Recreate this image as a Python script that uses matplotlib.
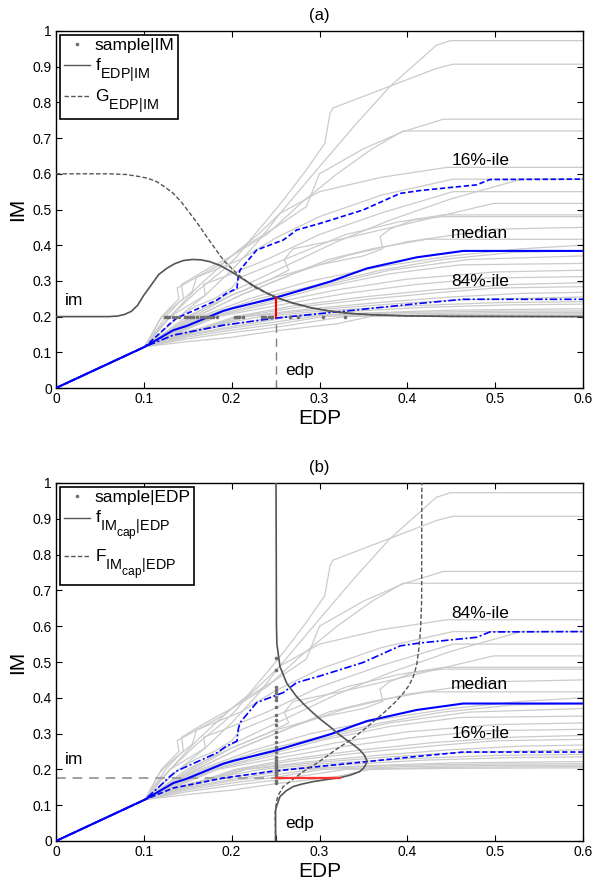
import matplotlib
matplotlib.use('Agg')
import matplotlib.pyplot as plt
import matplotlib._mathtext as _mt
from matplotlib.lines import Line2D
from matplotlib.ticker import FixedLocator

plt.rcParams['font.family'] = ['Liberation Sans', 'DejaVu Sans']
plt.rcParams['mathtext.fontset'] = 'custom'
plt.rcParams['mathtext.rm'] = 'Liberation Sans'
plt.rcParams['mathtext.it'] = 'Liberation Sans:italic'
plt.rcParams['mathtext.bf'] = 'Liberation Sans:bold'
# MATLAB-like larger, lower subscripts
_mt.SHRINK_FACTOR = 0.83
_mt.FontConstantsBase.sub1 = 0.9
_mt.FontConstantsBase.subdrop = 0.9

# ---------------- data ----------------
ELASTIC_EDP = [0.0, 0.1013]
ELASTIC_IM = [0.0, 0.1157]

# post-elastic branches of the IDA curves (EDP, IM)
IDA_EDP = [
    [0.118, 0.13, 0.16, 0.2, 0.23, 0.255, 0.30, 0.34, 0.38, 0.433, 0.449, 0.6],
    [0.13, 0.16, 0.19, 0.206, 0.221, 0.24, 0.259, 0.285, 0.306, 0.312, 0.315, 0.433, 0.452, 0.6],
    [0.12, 0.14, 0.138, 0.16, 0.19, 0.21, 0.25, 0.285, 0.30, 0.35, 0.395, 0.441, 0.6],
    [0.118, 0.13, 0.145, 0.143, 0.17, 0.2, 0.24, 0.28, 0.32, 0.36, 0.395, 0.6],
    [0.14, 0.17, 0.2, 0.23, 0.255, 0.30, 0.37, 0.445, 0.6],
    [0.125, 0.14, 0.155, 0.16, 0.19, 0.21, 0.25, 0.3, 0.37, 0.452, 0.6],
    [0.153, 0.2, 0.26, 0.32, 0.38, 0.45, 0.53, 0.6],
    [0.13, 0.15, 0.17, 0.168, 0.19, 0.24, 0.3, 0.37, 0.452, 0.6],
    [0.149, 0.2, 0.24, 0.265, 0.26, 0.27, 0.33, 0.4, 0.498, 0.6],
    [0.14, 0.16, 0.18, 0.2, 0.21, 0.23, 0.28, 0.33, 0.39, 0.441, 0.6],
    [0.156, 0.2, 0.25, 0.3, 0.35, 0.372, 0.369, 0.38, 0.406, 0.44, 0.6],
    [0.16, 0.21, 0.27, 0.33, 0.4, 0.5, 0.6],
    [0.16, 0.21, 0.26, 0.31, 0.36, 0.422, 0.6],
    [0.164, 0.22, 0.29, 0.37, 0.45, 0.53, 0.6],
    [0.168, 0.23, 0.3, 0.37, 0.44, 0.52, 0.6],
    [0.172, 0.24, 0.31, 0.38, 0.47, 0.6],
    [0.176, 0.24, 0.3, 0.38, 0.46, 0.6],
    [0.18, 0.25, 0.32, 0.4, 0.5, 0.6],
    [0.184, 0.26, 0.33, 0.41, 0.49, 0.6],
    [0.204, 0.27, 0.35, 0.43, 0.52, 0.6],
    [0.208, 0.28, 0.36, 0.44, 0.5, 0.6],
    [0.213, 0.29, 0.37, 0.45, 0.53, 0.6],
    [0.217, 0.3, 0.38, 0.46, 0.6],
    [0.15, 0.2, 0.234, 0.3, 0.4, 0.5, 0.6],
    [0.15, 0.2, 0.25, 0.3, 0.42, 0.52, 0.6],
    [0.15, 0.2, 0.25, 0.266, 0.35, 0.45, 0.6],
    [0.15, 0.2, 0.25, 0.3, 0.4, 0.5, 0.6],
    [0.15, 0.2, 0.25, 0.304, 0.4, 0.5, 0.6],
    [0.15, 0.2, 0.25, 0.329, 0.45, 0.6],
    [0.15, 0.2, 0.25, 0.32, 0.3575, 0.45, 0.55, 0.6],
]
IDA_IM = [
    [0.17, 0.2, 0.28, 0.37, 0.43, 0.489, 0.62, 0.735, 0.844, 0.96, 0.973, 0.973],
    [0.2, 0.27, 0.33, 0.368, 0.415, 0.47, 0.527, 0.611, 0.685, 0.769, 0.784, 0.895, 0.907, 0.907],
    [0.2, 0.25, 0.28, 0.31, 0.35, 0.39, 0.45, 0.508, 0.6, 0.67, 0.718, 0.753, 0.753],
    [0.19, 0.22, 0.25, 0.29, 0.33, 0.37, 0.43, 0.52, 0.6, 0.67, 0.72, 0.72],
    [0.2, 0.26, 0.33, 0.41, 0.489, 0.55, 0.59, 0.618, 0.618],
    [0.2, 0.24, 0.27, 0.31, 0.34, 0.36, 0.42, 0.48, 0.54, 0.585, 0.585],
    [0.2, 0.27, 0.34, 0.41, 0.47, 0.53, 0.585, 0.585],
    [0.2, 0.23, 0.26, 0.29, 0.31, 0.36, 0.43, 0.49, 0.55, 0.55],
    [0.2, 0.26, 0.3, 0.33, 0.36, 0.39, 0.42, 0.46, 0.517, 0.517],
    [0.2, 0.23, 0.25, 0.28, 0.31, 0.33, 0.38, 0.43, 0.465, 0.485, 0.485],
    [0.2, 0.26, 0.31, 0.345, 0.37, 0.39, 0.424, 0.445, 0.47, 0.48, 0.48],
    [0.2, 0.26, 0.32, 0.37, 0.41, 0.445, 0.45],
    [0.2, 0.26, 0.31, 0.36, 0.39, 0.4166, 0.4166],
    [0.2, 0.25, 0.3, 0.34, 0.37, 0.39, 0.40],
    [0.2, 0.25, 0.29, 0.33, 0.36, 0.38, 0.384],
    [0.2, 0.25, 0.29, 0.33, 0.36, 0.37],
    [0.2, 0.24, 0.28, 0.32, 0.345, 0.349],
    [0.2, 0.24, 0.275, 0.305, 0.325, 0.33],
    [0.2, 0.235, 0.265, 0.29, 0.308, 0.312],
    [0.2, 0.23, 0.255, 0.275, 0.29, 0.295],
    [0.2, 0.228, 0.25, 0.268, 0.28, 0.284],
    [0.2, 0.222, 0.24, 0.255, 0.265, 0.268],
    [0.2, 0.22, 0.235, 0.247, 0.255],
    [0.16, 0.185, 0.2, 0.215, 0.23, 0.239, 0.242],
    [0.155, 0.178, 0.198, 0.21, 0.226, 0.233, 0.235],
    [0.15, 0.172, 0.192, 0.2, 0.21, 0.218, 0.222],
    [0.147, 0.168, 0.185, 0.203, 0.212, 0.215, 0.216],
    [0.143, 0.162, 0.178, 0.2, 0.208, 0.211, 0.212],
    [0.138, 0.155, 0.17, 0.2, 0.206, 0.208],
    [0.13, 0.142, 0.16, 0.18, 0.2, 0.203, 0.204, 0.204],
]

# fractile curves
UPPER_EDP = [0, 0.1013, 0.118, 0.130, 0.137, 0.183, 0.194, 0.206, 0.2075, 0.2095, 0.2285,
             0.2588, 0.274, 0.3006, 0.3496, 0.3917, 0.414, 0.479, 0.494, 0.6]
UPPER_IM = [0, 0.1157, 0.153, 0.181, 0.195, 0.246, 0.265, 0.279, 0.312, 0.3305, 0.3866,
            0.4146, 0.4426, 0.461, 0.4986, 0.545, 0.553, 0.569, 0.584, 0.585]
MEDIAN_EDP = [0, 0.1013, 0.1336, 0.149, 0.1905, 0.202, 0.2474, 0.312, 0.354, 0.4106, 0.4637, 0.6]
MEDIAN_IM = [0, 0.1157, 0.162, 0.174, 0.216, 0.224, 0.251, 0.298, 0.335, 0.366, 0.384, 0.384]
LOWER_EDP = [0, 0.1013, 0.1336, 0.1905, 0.2474, 0.3233, 0.414, 0.4637, 0.6]
LOWER_IM = [0, 0.1157, 0.148, 0.176, 0.195, 0.214, 0.237, 0.2485, 0.2485]

# samples
IM_LEVEL = 0.2
SAMPLE_EDP = [0.124, 0.126, 0.129, 0.133, 0.137, 0.140, 0.147, 0.149, 0.153, 0.156,
              0.160, 0.165, 0.168, 0.172, 0.175, 0.179, 0.183, 0.204, 0.206, 0.208,
              0.213, 0.234, 0.236, 0.238, 0.242, 0.246, 0.266, 0.276, 0.304, 0.329]
EDP_LEVEL = 0.25
SAMPLE_IM = [0.161, 0.168, 0.1795, 0.185, 0.189, 0.194, 0.198, 0.203, 0.2075, 0.212,
             0.217, 0.226, 0.235, 0.249, 0.263, 0.277, 0.291, 0.305, 0.324, 0.338,
             0.352, 0.375, 0.394, 0.403, 0.4125, 0.422, 0.429, 0.478, 0.51]

# fitted distributions
FA_EDP = [0, 0.06, 0.07, 0.078, 0.086, 0.093, 0.1, 0.108, 0.117, 0.126, 0.135, 0.145, 0.155,
          0.165, 0.175, 0.187, 0.2, 0.213, 0.226, 0.24, 0.255, 0.27, 0.29, 0.31, 0.335, 0.36,
          0.4, 0.45, 0.6]
FA_IM = [0.2, 0.2, 0.2015, 0.206, 0.215, 0.232, 0.26, 0.287, 0.318, 0.335, 0.348, 0.357, 0.36,
         0.359, 0.354, 0.343, 0.325, 0.305, 0.285, 0.266, 0.25, 0.238, 0.225, 0.216, 0.209,
         0.205, 0.202, 0.2005, 0.2]
GA_EDP = [0, 0.06, 0.08, 0.0956, 0.105, 0.1146, 0.124, 0.1336, 0.143, 0.1526, 0.162, 0.1715,
          0.181, 0.1905, 0.2057, 0.2246, 0.2474, 0.270, 0.293, 0.3233, 0.36, 0.4, 0.45, 0.6]
GA_IM = [0.6, 0.6, 0.598, 0.592, 0.587, 0.578, 0.563, 0.545, 0.52, 0.489, 0.458, 0.424,
         0.391, 0.3585, 0.321, 0.284, 0.256, 0.237, 0.223, 0.211, 0.205, 0.202, 0.2005, 0.2]
FB_IM = [0, 0.0866, 0.1, 0.124, 0.14, 0.152, 0.159, 0.166, 0.172, 0.177, 0.184, 0.193, 0.203,
         0.215, 0.226, 0.24, 0.254, 0.268, 0.282, 0.30, 0.319, 0.338, 0.357, 0.38, 0.403,
         0.4405, 0.487, 0.55, 0.6, 1.0]
FB_EDP = [0.25, 0.25, 0.2515, 0.255, 0.262, 0.270, 0.28, 0.293, 0.309, 0.3233, 0.335, 0.345,
          0.35, 0.353, 0.3537, 0.351, 0.346, 0.339, 0.331, 0.321, 0.312, 0.302, 0.293, 0.283,
          0.274, 0.2627, 0.255, 0.2515, 0.251, 0.2505]
CB_IM = [0.0, 0.077, 0.1145, 0.13, 0.152, 0.18, 0.2, 0.217, 0.24, 0.263, 0.285, 0.31, 0.335,
         0.357, 0.385, 0.4126, 0.435, 0.459, 0.49, 0.524, 0.56, 0.599, 0.673, 1.0]
CB_EDP = [0.25, 0.2495, 0.2513, 0.2535, 0.2588, 0.274, 0.285, 0.2968, 0.31, 0.3233, 0.337,
          0.35, 0.362, 0.3727, 0.385, 0.3954, 0.402, 0.4068, 0.4105, 0.4125, 0.414, 0.4152,
          0.4163, 0.4165]

IM_B = 0.177
RED_A_TOP = 0.252
RED_B_RIGHT = 0.3233

XTICKS = [0, 0.1, 0.2, 0.3, 0.4, 0.5, 0.6]
XTICKLABELS = ['0', '0.1', '0.2', '0.3', '0.4', '0.5', '0.6']
YTICKS = [0, 0.1, 0.2, 0.3, 0.4, 0.5, 0.6, 0.7, 0.8, 0.9, 1.0]
YTICKLABELS = ['0', '0.1', '0.2', '0.3', '0.4', '0.5', '0.6', '0.7', '0.8', '0.9', '1']

# ---------------- styling ----------------
GRAY = '#cbcbcb'
DARK = '#555555'
BLUE = '#0000ff'
DOT = '#6e6e6e'
DASH = (0, (3.2, 1.6))
DASHDOT = (0, (4.5, 1.5, 1.2, 1.5))
FS_LABEL = 12.5

fig = plt.figure(figsize=(5.94, 8.85), dpi=100)
ax1 = fig.add_axes([56 / 594, 1 - 388 / 885, 527 / 594, 357 / 885])
ax2 = fig.add_axes([56 / 594, 1 - 841 / 885, 527 / 594, 358 / 885])


def base(ax, upper_ls, lower_ls):
    for e, i in zip(IDA_EDP, IDA_IM):
        ax.plot(ELASTIC_EDP + e, ELASTIC_IM + i, color=GRAY, lw=0.9, zorder=1)
    ax.plot(UPPER_EDP, UPPER_IM, color=BLUE, lw=1.2, ls=upper_ls, zorder=3)
    ax.plot(MEDIAN_EDP, MEDIAN_IM, color=BLUE, lw=1.5, ls='-', zorder=3)
    ax.plot(LOWER_EDP, LOWER_IM, color=BLUE, lw=1.2, ls=lower_ls, zorder=3)
    ax.set_xlim(0, 0.6)
    ax.set_ylim(0, 1)
    ax.set_xticks(XTICKS)
    ax.set_xticklabels(XTICKLABELS)
    ax.set_yticks(YTICKS)
    ax.set_yticklabels(YTICKLABELS)
    ax.xaxis.set_minor_locator(FixedLocator([0.25]))
    ax.tick_params(which='major', direction='in', length=4, width=0.8, top=True, right=True,
                   labelsize=10, pad=3)
    ax.tick_params(which='minor', direction='in', length=4, width=0.8, top=False, right=False,
                   bottom=True, left=False)
    for s in ax.spines.values():
        s.set_linewidth(1.0)
    ax.set_xlabel('EDP', fontsize=15, labelpad=2)
    ax.set_ylabel('IM', fontsize=15, labelpad=4)


def legend(ax, labels):
    h = [Line2D([], [], ls='none', marker='o', ms=2.6, color=DOT, mec='none'),
         Line2D([], [], color=DARK, lw=1.0),
         Line2D([], [], color=DARK, lw=1.0, ls=DASH)]
    leg = ax.legend(h, labels, loc='upper left', bbox_to_anchor=(0.008, 0.99), fontsize=12.5,
                    handlelength=1.5, handletextpad=0.3, borderpad=0.2, labelspacing=0.2,
                    fancybox=False, framealpha=1, edgecolor='black', borderaxespad=0)
    leg.get_frame().set_linewidth(1.2)
    leg.set_zorder(10)
    return leg


# ---- panel (a)
base(ax1, DASH, DASHDOT)
ax1.plot(FA_EDP, FA_IM, color=DARK, lw=1.2, zorder=4)
ax1.plot(GA_EDP, GA_IM, color=DARK, lw=1.0, ls=DASH, zorder=4)
ax1.plot(SAMPLE_EDP, [IM_LEVEL] * len(SAMPLE_EDP), ls='none', marker='o', ms=2.6,
         color=DOT, mec='none', zorder=5)
ax1.plot([EDP_LEVEL, EDP_LEVEL], [0, IM_LEVEL], color='#808080', lw=1.0,
         ls=(0, (6, 4)), zorder=2)
ax1.plot([EDP_LEVEL, EDP_LEVEL], [IM_LEVEL, RED_A_TOP], color='red', lw=1.5, zorder=6)
ax1.text(0.45, 0.637, '16%-ile', fontsize=FS_LABEL, va='center', ha='left')
ax1.text(0.45, 0.433, 'median', fontsize=FS_LABEL, va='center', ha='left')
ax1.text(0.45, 0.298, '84%-ile', fontsize=FS_LABEL, va='center', ha='left')
ax1.text(0.01, 0.245, 'im', fontsize=FS_LABEL, va='center', ha='left')
ax1.text(0.261, 0.05, 'edp', fontsize=FS_LABEL, va='center', ha='left')
ax1.set_title('(a)', fontsize=12, pad=8)
legend(ax1, ['sample|IM', r'$\mathregular{f_{EDP|IM}}$', r'$\mathregular{G_{EDP|IM}}$'])

# ---- panel (b)
base(ax2, DASHDOT, DASH)
ax2.plot(FB_EDP, FB_IM, color=DARK, lw=1.2, zorder=4)
ax2.plot(CB_EDP, CB_IM, color=DARK, lw=1.0, ls=DASH, zorder=4)
ax2.plot([EDP_LEVEL] * len(SAMPLE_IM), SAMPLE_IM, ls='none', marker='o', ms=2.6,
         color=DOT, mec='none', zorder=5)
ax2.plot([0, EDP_LEVEL], [IM_B, IM_B], color='#a0a0a0', lw=1.4, ls=(0, (5, 3.5)), zorder=2)
ax2.plot([EDP_LEVEL, RED_B_RIGHT], [IM_B, IM_B], color='#ff3030', lw=1.6, zorder=6)
ax2.text(0.45, 0.636, '84%-ile', fontsize=FS_LABEL, va='center', ha='left')
ax2.text(0.45, 0.436, 'median', fontsize=FS_LABEL, va='center', ha='left')
ax2.text(0.45, 0.300, '16%-ile', fontsize=FS_LABEL, va='center', ha='left')
ax2.text(0.01, 0.228, 'im', fontsize=FS_LABEL, va='center', ha='left')
ax2.text(0.261, 0.05, 'edp', fontsize=FS_LABEL, va='center', ha='left')
ax2.set_title('(b)', fontsize=12, pad=8)
legend(ax2, ['sample|EDP', r'$\mathregular{f_{IM_{cap}|EDP}}$',
             r'$\mathregular{F_{IM_{cap}|EDP}}$'])

fig.savefig('out.png', dpi=100)
